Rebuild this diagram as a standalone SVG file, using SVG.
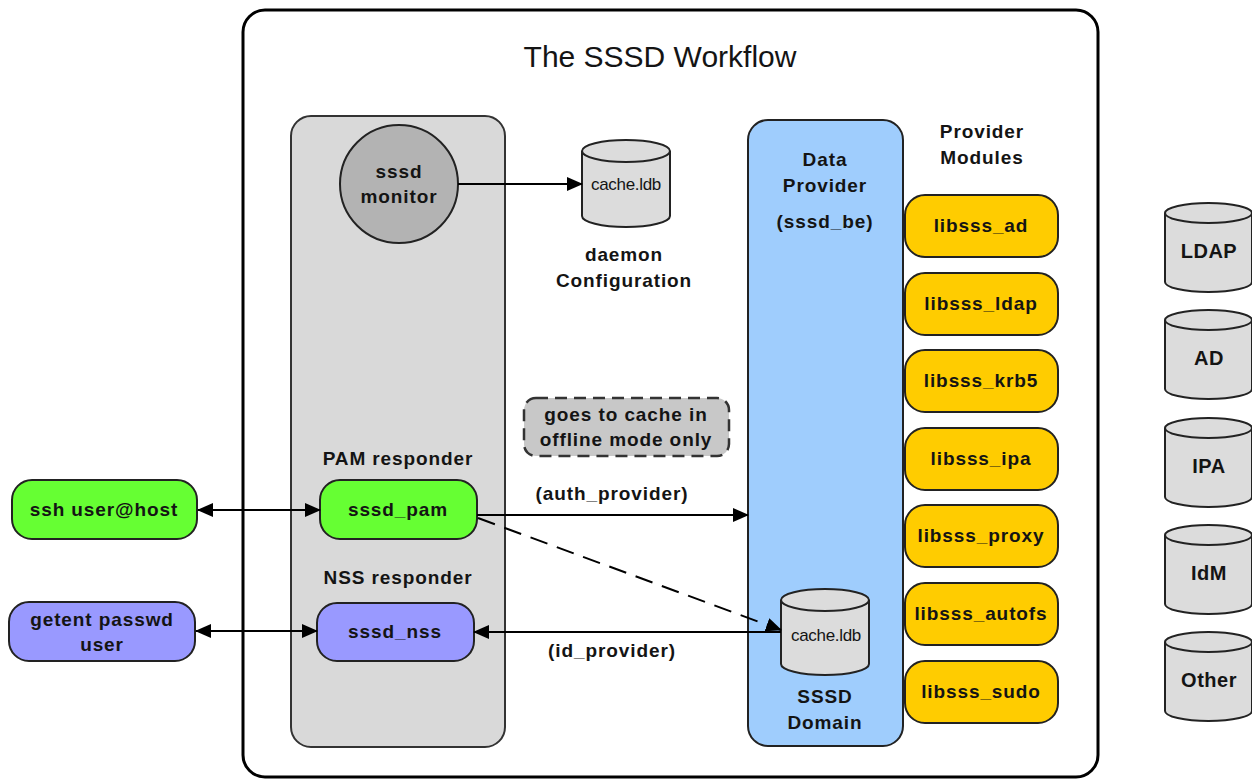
<svg xmlns="http://www.w3.org/2000/svg" width="1252" height="781" viewBox="0 0 1252 781">
<style>
text{font-family:"Liberation Sans",Arial,sans-serif;fill:#141414;text-anchor:middle}
.b{font-weight:bold;font-size:19px;letter-spacing:0.9px}
.r{font-weight:bold;font-size:20px;letter-spacing:0.5px}
.s{font-size:17px;letter-spacing:-0.3px}
.box{stroke:#222;stroke-width:2}
.cyl{fill:#dcdcdc;stroke:#222;stroke-width:2}
.cyl2{fill:none;stroke:#222;stroke-width:2}
.ln{stroke:#000;stroke-width:2;fill:none}
.y{fill:#ffcc00}
</style>
<defs>
<marker id="ah" markerUnits="userSpaceOnUse" markerWidth="16" markerHeight="14" refX="15" refY="7" orient="auto-start-reverse" viewBox="0 0 16 14">
<path d="M0,0 L16,7 L0,14 Z" fill="#000"/>
</marker>
</defs>
<rect width="1252" height="781" fill="#fff"/>
<g id="outer">
<rect x="243" y="10" width="855" height="767" rx="22" fill="#fff" stroke="#000" stroke-width="3"/>
<text x="660" y="67" style="font-size:30px">The SSSD Workflow</text>
</g>
<g id="responders-panel">
<rect x="291" y="116" width="214" height="631" rx="20" fill="#d9d9d9" stroke="#333" stroke-width="2"/>
<text class="b" x="398" y="465">PAM responder</text>
<text class="b" x="398" y="584">NSS responder</text>
</g>
<g id="sssd-monitor">
<circle cx="399" cy="184" r="59" fill="#b3b3b3" stroke="#222" stroke-width="2"/>
<text class="b" x="399" y="178">sssd</text>
<text class="b" x="399" y="203">monitor</text>
</g>
<g id="config-cache">
<path class="cyl" d="M582,151 A44,11 0 0 1 670,151 V216 A44,11 0 0 1 582,216 Z"/>
<path class="cyl2" d="M582,151 A44,11 0 0 0 670,151"/>
<text class="s" x="626" y="190">cache.ldb</text>
<text class="b" x="624" y="261">daemon</text>
<text class="b" x="624" y="287">Configuration</text>
</g>
<g id="data-provider">
<rect x="748" y="120" width="155" height="626" rx="20" fill="#9fcdfd" stroke="#222" stroke-width="2"/>
<text class="b" x="825" y="166">Data</text>
<text class="b" x="825" y="192">Provider</text>
<text class="b" x="825" y="228">(sssd_be)</text>
<text class="b" x="825" y="703">SSSD</text>
<text class="b" x="825" y="729">Domain</text>
</g>
<g id="domain-cache">
<path class="cyl" d="M781,600 A44,11 0 0 1 869,600 V664 A44,11 0 0 1 781,664 Z"/>
<path class="cyl2" d="M781,600 A44,11 0 0 0 869,600"/>
<text class="s" x="826" y="641">cache.ldb</text>
</g>
<g id="provider-modules">
<text class="b" x="982" y="138">Provider</text>
<text class="b" x="982" y="164">Modules</text>
</g>
<g id="libsss_ad"><rect class="box y" x="905" y="195" width="153" height="62" rx="20"/><text class="b" x="981" y="232">libsss_ad</text></g>
<g id="libsss_ldap"><rect class="box y" x="905" y="273" width="153" height="62" rx="20"/><text class="b" x="981" y="310">libsss_ldap</text></g>
<g id="libsss_krb5"><rect class="box y" x="905" y="350" width="153" height="62" rx="20"/><text class="b" x="981" y="387">libsss_krb5</text></g>
<g id="libsss_ipa"><rect class="box y" x="905" y="428" width="153" height="62" rx="20"/><text class="b" x="981" y="465">libsss_ipa</text></g>
<g id="libsss_proxy"><rect class="box y" x="905" y="505" width="153" height="62" rx="20"/><text class="b" x="981" y="542">libsss_proxy</text></g>
<g id="libsss_autofs"><rect class="box y" x="905" y="583" width="153" height="62" rx="20"/><text class="b" x="981" y="620">libsss_autofs</text></g>
<g id="libsss_sudo"><rect class="box y" x="905" y="661" width="153" height="62" rx="20"/><text class="b" x="981" y="698">libsss_sudo</text></g>
<g id="ldap"><path class="cyl" d="M1165,213 A43.5,10 0 0 1 1252,213 V282 A43.5,10 0 0 1 1165,282 Z"/><path class="cyl2" d="M1165,213 A43.5,10 0 0 0 1252,213"/><text class="r" x="1209" y="258">LDAP</text></g>
<g id="ad"><path class="cyl" d="M1165,320 A43.5,10 0 0 1 1252,320 V389 A43.5,10 0 0 1 1165,389 Z"/><path class="cyl2" d="M1165,320 A43.5,10 0 0 0 1252,320"/><text class="r" x="1209" y="365">AD</text></g>
<g id="ipa"><path class="cyl" d="M1165,428 A43.5,10 0 0 1 1252,428 V497 A43.5,10 0 0 1 1165,497 Z"/><path class="cyl2" d="M1165,428 A43.5,10 0 0 0 1252,428"/><text class="r" x="1209" y="473">IPA</text></g>
<g id="idm"><path class="cyl" d="M1165,535 A43.5,10 0 0 1 1252,535 V604 A43.5,10 0 0 1 1165,604 Z"/><path class="cyl2" d="M1165,535 A43.5,10 0 0 0 1252,535"/><text class="r" x="1209" y="580">IdM</text></g>
<g id="other"><path class="cyl" d="M1165,642 A43.5,10 0 0 1 1252,642 V711 A43.5,10 0 0 1 1165,711 Z"/><path class="cyl2" d="M1165,642 A43.5,10 0 0 0 1252,642"/><text class="r" x="1209" y="687">Other</text></g>
<g id="ssh">
<rect class="box" x="12" y="480" width="185" height="59" rx="20" fill="#66ff33"/>
<text class="b" x="104" y="516">ssh user@host</text>
</g>
<g id="getent">
<rect class="box" x="9" y="602" width="186" height="59" rx="20" fill="#9999ff"/>
<text class="b" x="102" y="626">getent passwd</text>
<text class="b" x="102" y="651">user</text>
</g>
<g id="sssd_pam">
<rect class="box" x="320" y="480" width="157" height="59" rx="20" fill="#66ff33"/>
<text class="b" x="398" y="516">sssd_pam</text>
</g>
<g id="sssd_nss">
<rect class="box" x="317" y="603" width="157" height="58" rx="20" fill="#9999ff"/>
<text class="b" x="395" y="638">sssd_nss</text>
</g>
<g id="offline-note">
<rect x="524" y="398" width="205" height="58" rx="12" fill="#c8c8c8" stroke="#333" stroke-width="2.5" stroke-dasharray="12,7"/>
<text class="b" x="626" y="421">goes to cache in</text>
<text class="b" x="626" y="446">offline mode only</text>
</g>
<g id="connectors">
<line class="ln" x1="458" y1="184" x2="582" y2="184" marker-end="url(#ah)"/>
<line class="ln" x1="198" y1="510" x2="320" y2="510" marker-start="url(#ah)" marker-end="url(#ah)"/>
<line class="ln" x1="196" y1="631" x2="317" y2="631" marker-start="url(#ah)" marker-end="url(#ah)"/>
<line class="ln" x1="477" y1="515" x2="748" y2="515" marker-end="url(#ah)"/>
<line class="ln" x1="474" y1="632" x2="781" y2="632" marker-start="url(#ah)"/>
<line class="ln" x1="478" y1="518" x2="781" y2="630" stroke-dasharray="18,10" marker-end="url(#ah)"/>
<text class="b" x="612" y="500">(auth_provider)</text>
<text class="b" x="612" y="657">(id_provider)</text>
</g>
</svg>
